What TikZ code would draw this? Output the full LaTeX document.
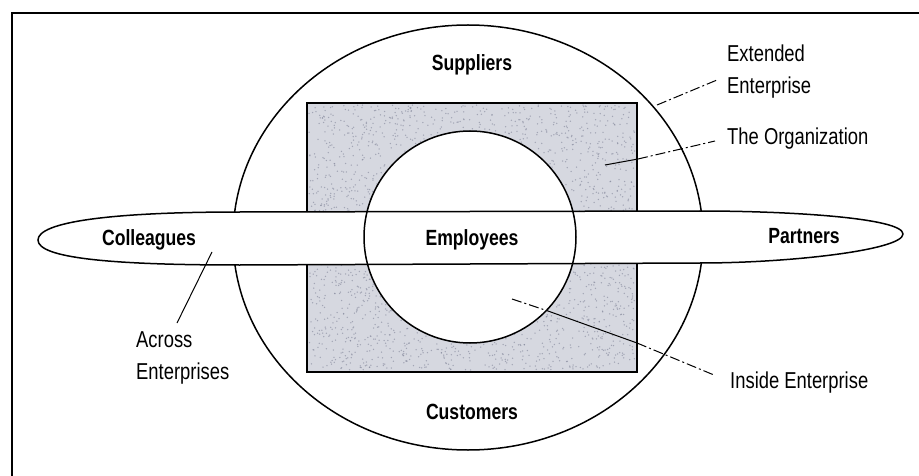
\documentclass[tikz,border=0pt]{standalone}
\usepackage{fontspec}
\setmainfont{Liberation Sans}[FakeStretch=0.8]
\definecolor{stip}{RGB}{214,216,224}
\definecolor{speck}{RGB}{120,124,145}
\begin{document}
\begin{tikzpicture}[x=1pt,y=-1pt,
  outline/.style={line width=1.5pt},
  lbl/.style={font=\bfseries\fontsize{22}{26}\selectfont, inner sep=0pt},
  callout/.style={font=\fontsize{23}{32}\selectfont, inner sep=0pt, align=left, anchor=west},
  leader/.style={line width=1pt},
  dashdot/.style={line width=1pt, dash pattern=on 10pt off 3pt on 2pt off 3pt}]
\useasboundingbox (0,0) rectangle (919,476);
% frame
\draw[line width=1.6pt] (12,476) -- (12,13) -- (919,13);
% extended enterprise
\draw[outline] (468,237.5) ellipse [x radius=235, y radius=212.5];
% organization (stippled)
\fill[stip] (307,103) rectangle (637,372);
\pgfmathsetseed{4242}
\foreach \i in {1,...,2600}{
  \pgfmathsetmacro{\px}{309+326*rnd}
  \pgfmathsetmacro{\py}{105+265*rnd}
  \fill[speck, opacity=0.55] (\px,\py) circle [radius=0.75];
}
\draw[outline] (307,103) rectangle (637,372);
\fill[white] (470,237) circle [radius=106];
% across enterprises band
\path[fill=white, draw, outline] (38,240) .. controls (38,222) and (110,212) .. (240,212)
  -- (700,211) .. controls (790,211) and (903,218) .. (903,234)
  .. controls (903,250) and (790,263) .. (700,263)
  -- (240,265) .. controls (110,265) and (38,258) .. (38,240) -- cycle;
% inside enterprise
\draw[outline] (470,237) circle [radius=106];
% labels
\node[lbl] (sup) at (472,65) {Suppliers};
\node[lbl] (cus) at (472,412) {Customers};
\node[lbl] (emp) at (472,240) {Employees};
\node[lbl] (col) at (149,240) {Colleagues};
\node[lbl] (par) at (804,236) {Partners};
% callouts
\node[callout] (ext) at (727,72) {Extended\\Enterprise};
\node[callout] (org) at (727,139) {The Organization};
\node[callout] (ins) at (730,383) {Inside Enterprise};
\node[callout] (acr) at (136,358) {Across\\Enterprises};
% leader points
\coordinate (extA) at (657,105);
\coordinate (extB) at (717,80);
\coordinate (orgA) at (605,165);
\coordinate (orgB) at (638,159);
\coordinate (orgC) at (715,141);
\coordinate (insA) at (512,299);
\coordinate (insB) at (548,311);
\coordinate (insC) at (637,343);
\coordinate (insD) at (714,375);
\coordinate (acrA) at (212,252);
\coordinate (acrB) at (177,323);
% leaders
\draw[dashdot] (extA) -- (extB);
\draw[leader] (orgA) -- (orgB);
\draw[dashdot] (orgB) -- (orgC);
\draw[dashdot] (insA) -- (insB);
\draw[leader] (insB) -- (insC);
\draw[dashdot] (insC) -- (insD);
\draw[leader] (acrA) -- (acrB);
\end{tikzpicture}
\end{document}
